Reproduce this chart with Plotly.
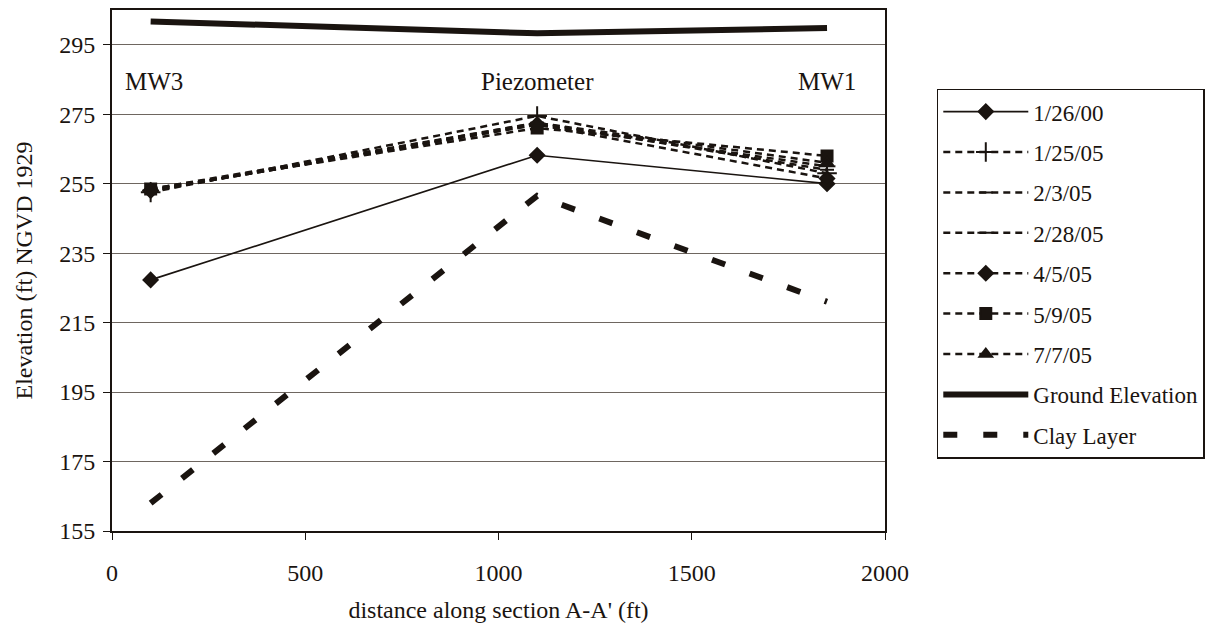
import plotly.graph_objects as go

distance = [100, 1100, 1850]
wells = ["MW3", "Piezometer", "MW1"]

wl_1_26_00 = [227.3, 263.2, 255.0]
wl_1_25_05 = [252.5, 274.5, 258.0]
wl_2_3_05 = [253.0, 272.5, 259.0]
wl_2_28_05 = [253.0, 272.0, 260.0]
wl_4_5_05 = [253.0, 272.0, 256.5]
wl_5_9_05 = [253.5, 271.0, 263.0]
wl_7_7_05 = [253.5, 272.5, 261.0]
ground_elev = [301.7, 298.3, 299.8]
clay_layer = [163.0, 251.5, 221.0]

font_family = "Liberation Serif, Times New Roman, serif"
ink = "#1a1410"
fig = go.Figure()

series = [
    ("1/26/00", wl_1_26_00, "solid", 1.6, "diamond", 11),
    ("1/25/05", wl_1_25_05, "7px,5px", 2.5, "cross-thin", 14),
    ("2/3/05", wl_2_3_05, "7px,5px", 2.5, "line-ew", 10),
    ("2/28/05", wl_2_28_05, "7px,5px", 2.5, "line-ew", 12),
    ("4/5/05", wl_4_5_05, "7px,5px", 2.5, "diamond", 11),
    ("5/9/05", wl_5_9_05, "7px,5px", 2.5, "square", 11),
    ("7/7/05", wl_7_7_05, "7px,5px", 2.5, "triangle-up", 11),
]
for i, (name, vals, dash, w, sym, sz) in enumerate(series):
    fig.add_trace(go.Scatter(
        x=distance, y=vals, name=name, mode="lines+markers",
        line=dict(color=ink, width=w, dash=dash),
        marker=dict(symbol=sym, size=sz, color=ink,
                    line=dict(color=ink, width=2)),
        legendgroup=f"g{i}",
    ))

fig.add_trace(go.Scatter(
    x=distance, y=ground_elev, name="Ground Elevation", mode="lines",
    line=dict(color=ink, width=6), legendgroup="g7",
))
fig.add_trace(go.Scatter(
    x=distance, y=clay_layer, name="Clay Layer", mode="lines",
    line=dict(color=ink, width=6, dash="14px,26px"), legendgroup="g8",
))

for x, t, anchor in [(28, "MW3", "left"), (1100, "Piezometer", "center"), (1930, "MW1", "right")]:
    fig.add_annotation(x=x, y=284.5, text=t, showarrow=False, xanchor=anchor,
                       font=dict(family=font_family, size=25, color=ink))

fig.update_layout(
    width=1232, height=634,
    margin=dict(l=112, r=347, t=8, b=103),
    paper_bgcolor="white", plot_bgcolor="white",
    font=dict(family=font_family, size=22, color=ink),
    showlegend=True,
    legend=dict(
        x=1.067, y=0.849, xanchor="left", yanchor="top",
        bordercolor=ink, borderwidth=1.5,
        font=dict(family=font_family, size=23, color=ink),
        tracegroupgap=7.5, itemwidth=85, traceorder="grouped",
    ),
    xaxis=dict(
        range=[0, 2000], tickvals=[0, 500, 1000, 1500, 2000],
        showline=True, mirror=True, linecolor=ink, linewidth=2,
        ticks="outside", ticklen=7, tickcolor=ink, ticklabelstandoff=12,
        showgrid=False, zeroline=False,
        title=dict(text="distance along section A-A' (ft)", standoff=16,
                   font=dict(family=font_family, size=24)),
        tickfont=dict(size=24),
    ),
    yaxis=dict(
        range=[155, 305], tickvals=[155, 175, 195, 215, 235, 255, 275, 295],
        showline=True, mirror=True, linecolor=ink, linewidth=2,
        ticks="outside", ticklen=7, tickcolor=ink, ticklabelstandoff=3,
        showgrid=True, gridcolor="#6e6660", gridwidth=1.2, zeroline=False,
        title=dict(text="Elevation (ft) NGVD 1929", standoff=20,
                   font=dict(family=font_family, size=24)),
        tickfont=dict(size=24),
    ),
)

fig.write_html("out.html")
